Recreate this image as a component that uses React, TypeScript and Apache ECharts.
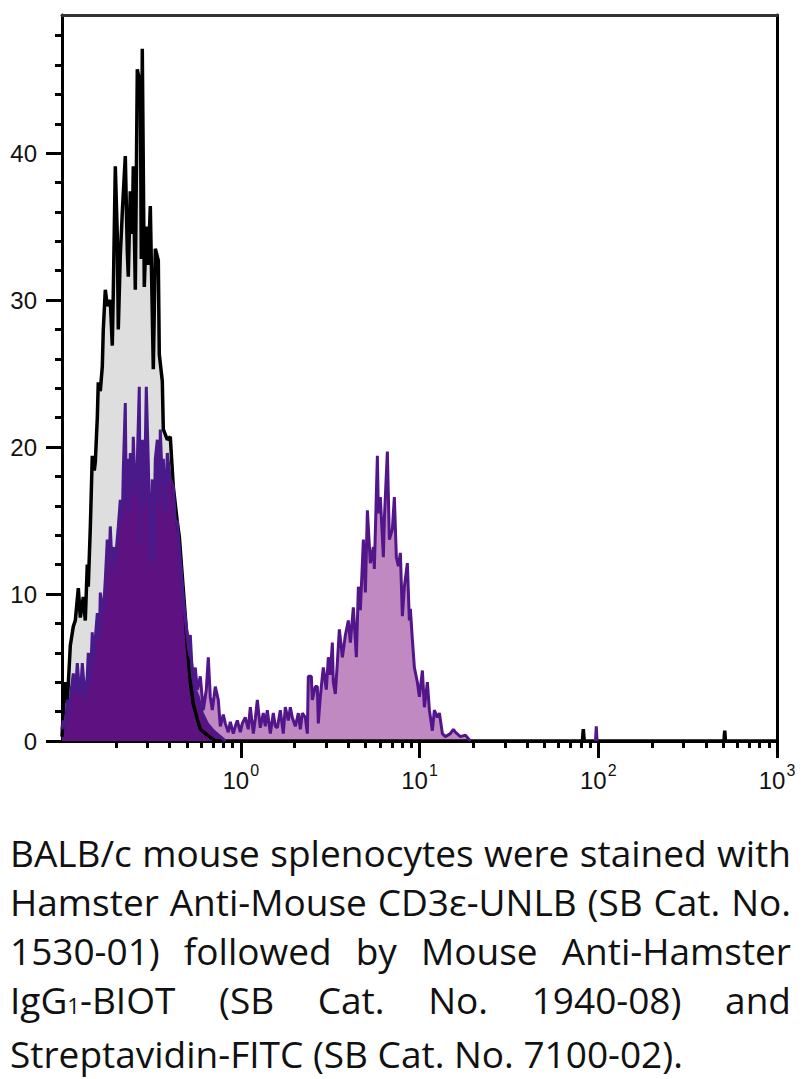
import React, { useEffect, useRef } from "react";
import * as echarts from "echarts";

// ---------- data: [fluorescence intensity, events] ----------
const controlData: [number, number][] = [
  [0.1, 0.3], [0.1017, 2.0], [0.1043, 4.0], [0.1071, 2.6], [0.1113, 6.5], [0.1157, 7.8],
  [0.1187, 8.2], [0.1234, 10.4], [0.1266, 8.4], [0.1316, 9.8], [0.135, 8.2], [0.1385, 12.0],
  [0.1403, 10.5], [0.144, 14.5], [0.1477, 19.4], [0.1516, 18.4], [0.1536, 19.0], [0.1576, 22.0],
  [0.1596, 24.4], [0.1638, 23.8], [0.1681, 25.5], [0.1702, 28.0], [0.1747, 30.7], [0.1792, 29.6],
  [0.1863, 30.0], [0.1911, 26.9], [0.1936, 30.5], [0.1987, 39.1], [0.2039, 34.4], [0.2065, 28.0],
  [0.2119, 33.0], [0.2175, 36.0], [0.226, 39.8], [0.2319, 33.3], [0.2349, 31.6], [0.241, 37.4],
  [0.2473, 34.5], [0.2505, 39.1], [0.2571, 30.7], [0.2638, 45.7], [0.2706, 45.0], [0.2742, 45.3],
  [0.2777, 32.8], [0.2813, 47.1], [0.2887, 30.9], [0.2962, 35.0], [0.3039, 32.4], [0.3119, 36.4],
  [0.3242, 25.3], [0.3327, 33.5], [0.3458, 32.7], [0.3502, 26.3], [0.364, 24.5], [0.3688, 21.2],
  [0.3882, 20.5], [0.4034, 20.7], [0.4194, 17.3], [0.4416, 14.9], [0.4532, 13.9], [0.471, 11.2],
  [0.4896, 8.5], [0.5024, 6.4], [0.5222, 4.0], [0.5428, 2.5], [0.5714, 1.5], [0.5939, 0.8],
  [0.6499, 0.4], [0.7204, 0], [81.5, 0], [82.5, 0.8], [83.5, 0], [505, 0], [510, 0.7], [515, 0],
  [1000, 0],
];

const stainedData: [number, number | string][] = [
  [0.4591, 12.3], [0.471, 10.5], [0.4771, 9.5], [0.4896, 8.5], [0.5024, 7.0], [0.5155, 6.0],
  [0.529, 5.5], [0.5428, 4.2], [0.5568, 5.0], [0.5714, 3.5], [0.5939, 4.4], [0.6173, 2.1],
  [0.6416, 3.5], [0.6583, 5.7], [0.6755, 3.0], [0.6931, 2.1], [0.7204, 3.7], [0.7488, 2.8],
  [0.7683, 1.0], [0.7987, 1.8], [0.8195, 1.2], [0.8518, 0.6], [0.8741, 1.3], [0.9086, 0.5],
  [0.9324, 1.0], [0.9568, 1.4], [0.994, 0.6], [1.02, 1.2], [1.06, 1.6], [1.102, 0.8],
  [1.131, 2.3], [1.176, 0.5], [1.206, 1.5], [1.238, 2.8], [1.286, 0.9], [1.337, 1.9],
  [1.372, 1.0], [1.408, 2.1], [1.464, 0.5], [1.521, 1.9], [1.561, 1.0], [1.602, 0.9],
  [1.665, 2.1], [1.73, 0.5], [1.775, 2.3], [1.845, 1.4], [1.894, 2.3], [1.943, 1.6],
  [2.02, 1.0], [2.1, 1.9], [2.154, 0.8], [2.21, 1.9], [2.298, 1.6], [2.358, 0.5],
  [2.388, 4.4], [2.482, 4.4], [2.515, 2.8], [2.614, 3.7], [2.682, 3.7], [2.716, 1.2],
  [2.787, 3.0], [2.86, 4.4], [2.897, 5.0], [3.011, 3.5], [3.09, 5.7], [3.171, 4.5],
  [3.254, 6.7], [3.296, 4.0], [3.382, 3.2], [3.47, 5.3], [3.561, 7.6], [3.704, 5.7],
  [3.847, 7.2], [3.999, 8.2], [4.104, 6.7], [4.265, 9.1], [4.434, 5.7], [4.55, 10.5],
  [4.669, 8.9], [4.853, 13.7], [4.98, 10.1], [5.11, 15.7], [5.309, 12.1], [5.519, 13.2],
  [5.59, 11.7], [5.812, 19.4], [5.887, 15.5], [6.039, 16.6], [6.278, 12.5], [6.359, 15.1],
  [6.61, 19.7], [6.783, 13.7], [7.05, 14.4], [7.234, 16.6], [7.423, 12.5], [7.616, 11.9],
  [7.815, 12.8], [8.019, 8.5], [8.228, 10.5], [8.552, 12.1], [8.776, 8.2], [8.889, 9.0],
  [9.123, 6.9], [9.361, 5.0], [9.73, 4.0], [9.984, 3.0], [10.38, 4.8], [10.65, 2.3],
  [11.07, 4.0], [11.36, 2.1], [11.8, 0.7], [12.11, 2.1], [12.59, 1.6], [12.92, 1.9],
  [13.43, 0.5], [13.95, 0.3], [14.88, 0.5], [15.47, 0.8], [15.87, 0.6], [16.93, 0.3],
  [18.06, 0.4], [19.26, 0], [96, "-"], [96.5, 0], [97.5, 1.0], [98.5, 0],
];

const cd3NegativeData: [number, number][] = [
  [0.1, 0.8], [0.1017, 1.4], [0.1043, 1.0], [0.1071, 2.8], [0.1099, 2.0], [0.1127, 3.5],
  [0.1157, 4.6], [0.1187, 3.2], [0.1218, 5.3], [0.125, 3.5], [0.1266, 3.0], [0.1299, 5.3],
  [0.1333, 3.5], [0.135, 2.8], [0.1385, 4.5], [0.1403, 6.0], [0.144, 4.0], [0.1477, 7.4],
  [0.1497, 5.5], [0.1536, 7.0], [0.1576, 8.7], [0.1617, 7.0], [0.1638, 10.1], [0.1681, 9.0],
  [0.1702, 8.7], [0.1747, 11.0], [0.1792, 13.7], [0.1839, 12.5], [0.1863, 14.6], [0.1911, 11.5],
  [0.1936, 13.2], [0.1987, 12.2], [0.2065, 14.6], [0.2119, 16.4], [0.2175, 15.0], [0.2203, 18.5],
  [0.226, 23.0], [0.229, 16.0], [0.2319, 19.2], [0.2379, 15.5], [0.241, 19.6], [0.2473, 17.0],
  [0.2505, 20.7], [0.2571, 16.5], [0.2638, 19.0], [0.2706, 24.1], [0.2742, 13.5], [0.2813, 20.5],
  [0.2887, 16.0], [0.2962, 24.1], [0.3039, 19.0], [0.3119, 12.1], [0.32, 17.8], [0.3242, 12.3],
  [0.3327, 19.2], [0.3414, 20.5], [0.3502, 16.0], [0.3548, 21.2], [0.364, 17.5], [0.3688, 19.2],
  [0.3784, 15.5], [0.3882, 19.6], [0.4034, 17.8], [0.4194, 17.3], [0.4304, 15.0], [0.4416, 14.9],
  [0.4591, 12.3], [0.471, 10.5], [0.4896, 8.2], [0.5089, 6.9], [0.5222, 7.2], [0.5358, 4.6],
  [0.5568, 3.5], [0.5788, 3.0], [0.6094, 1.9], [0.6499, 1.2], [0.7021, 0.7], [0.7683, 0.3],
  [0.8195, 0],
];

// ---------- axes ----------
const yTickValues = [0, 10, 20, 30, 40];
const yMinorTickValues = [2, 4, 6, 8, 12, 14, 16, 18, 22, 24, 26, 28, 32, 34, 36, 38, 42, 44, 46, 48];
const yMax = 49.4;
const xMin = 0.1;
const xMax = 1000;
const xDecadeExponents = [0, 1, 2, 3];
const xMinorTickValues = [
  0.2, 0.3, 0.4, 0.5, 0.6, 0.7, 0.8, 0.9,
  2, 3, 4, 5, 6, 7, 8, 9,
  20, 30, 40, 50, 60, 70, 80, 90,
  200, 300, 400, 500, 600, 700, 800, 900,
];

const captionLines = [
  "BALB/c mouse splenocytes were stained with",
  "Hamster Anti-Mouse CD3ε-UNLB (SB Cat. No.",
  "1530-01) followed by Mouse Anti-Hamster",
  "IgG1-BIOT (SB Cat. No. 1940-08) and",
  "Streptavidin-FITC (SB Cat. No. 7100-02).",
];

const AXIS_FONT = "'Liberation Sans', Arial, sans-serif";

function renderWord(word: string, key: number) {
  if (word.startsWith("IgG1")) {
    return (
      <span key={key}>
        IgG<span style={{ fontSize: "0.6em" }}>1</span>
        {word.slice(4)}
      </span>
    );
  }
  return <span key={key}>{word}</span>;
}

export default function App() {
  const ref = useRef<HTMLDivElement>(null);

  useEffect(() => {
    if (!ref.current) return;
    const chart = echarts.init(ref.current, undefined, { renderer: "svg" });
    const logTicks = xMinorTickValues.map((v) => Math.log10(v));
    const noZero = { onZero: false };

    const hiddenValueX = {
      type: "value",
      min: Math.log10(xMin),
      max: Math.log10(xMax),
      splitLine: { show: false },
    };
    const baseY = { type: "value", min: 0, max: yMax, splitLine: { show: false } };

    chart.setOption({
      animation: false,
      grid: { left: 62, top: 15, width: 715, height: 726, outerBoundsMode: "none", containLabel: false },
      xAxis: [
        {
          type: "log",
          logBase: 10,
          min: xMin,
          max: xMax,
          position: "bottom",
          axisLine: { ...noZero, show: true, lineStyle: { color: "#000", width: 3 } },
          axisTick: { show: false },
          axisLabel: { show: false },
          minorTick: { show: false },
          splitLine: { show: false },
        },
        {
          ...hiddenValueX,
          position: "bottom",
          axisLine: { ...noZero, show: true, lineStyle: { color: "rgba(0,0,0,0)", width: 0 } },
          axisTick: {
            show: true,
            length: 17,
            lineStyle: { color: "#000", width: 3 },
            customValues: xDecadeExponents,
          },
          axisLabel: {
            show: true,
            customValues: xDecadeExponents,
            margin: 21,
            formatter: (v: number) => `{b|10}{s|${v}}`,
            rich: {
              b: { fontSize: 24, lineHeight: 30, fontFamily: AXIS_FONT, color: "#111", verticalAlign: "bottom" },
              s: { fontSize: 16, lineHeight: 16, fontFamily: AXIS_FONT, color: "#111", verticalAlign: "top", padding: [0, 0, 0, 1] },
            },
          },
        },
        {
          ...hiddenValueX,
          position: "bottom",
          axisLine: { ...noZero, show: true, lineStyle: { color: "rgba(0,0,0,0)", width: 0 } },
          axisTick: { show: true, length: 7, lineStyle: { color: "#000", width: 3 }, customValues: logTicks },
          axisLabel: { show: false },
        },
        {
          ...hiddenValueX,
          position: "top",
          axisLine: { ...noZero, show: true, lineStyle: { color: "#333", width: 3 } },
          axisTick: { show: false },
          axisLabel: { show: false },
        },
      ],
      yAxis: [
        {
          ...baseY,
          position: "left",
          axisLine: { ...noZero, show: true, lineStyle: { color: "#000", width: 3 } },
          axisTick: { show: true, length: 16, lineStyle: { color: "#000", width: 3 }, customValues: yTickValues },
          axisLabel: {
            show: true,
            customValues: yTickValues,
            margin: 25,
            fontSize: 24,
            fontFamily: AXIS_FONT,
            color: "#111",
          },
        },
        {
          ...baseY,
          position: "left",
          axisLine: { ...noZero, show: true, lineStyle: { color: "rgba(0,0,0,0)", width: 0 } },
          axisTick: { show: true, length: 7, lineStyle: { color: "#000", width: 3 }, customValues: yMinorTickValues },
          axisLabel: { show: false },
        },
        {
          ...baseY,
          position: "right",
          axisLine: { ...noZero, show: true, lineStyle: { color: "#000", width: 3 } },
          axisTick: { show: false },
          axisLabel: { show: false },
        },
      ],
      series: [
        {
          name: "Control",
          type: "line",
          xAxisIndex: 0,
          yAxisIndex: 0,
          data: controlData,
          symbol: "none",
          lineStyle: { color: "#000", width: 3.5 },
          areaStyle: { color: "#dedede", opacity: 1 },
        },
        {
          name: "Stained",
          type: "line",
          xAxisIndex: 0,
          yAxisIndex: 0,
          data: stainedData,
          symbol: "none",
          connectNulls: false,
          lineStyle: { color: "#53168a", width: 3 },
          areaStyle: { color: "#c089c1", opacity: 1 },
        },
        {
          name: "CD3 negative",
          type: "line",
          xAxisIndex: 0,
          yAxisIndex: 0,
          data: cd3NegativeData,
          symbol: "none",
          lineStyle: { color: "#4a1a8a", width: 3 },
          areaStyle: { color: "#5e1281", opacity: 1 },
        },
      ],
    });
    return () => chart.dispose();
  }, []);

  return (
    <div style={{ position: "absolute", left: 0, top: 0, width: 804, height: 1079, background: "#fff", overflow: "hidden" }}>
      <div ref={ref} style={{ position: "absolute", left: 0, top: 0, width: 804, height: 805 }} />
      <div
        style={{
          position: "absolute",
          left: 10,
          top: 828,
          width: 781,
          fontFamily: "'Open Sans', 'Noto Sans', sans-serif",
          fontSize: 37,
          lineHeight: "49px",
          color: "#111",
        }}
      >
        {captionLines.map((line, i) => {
          const last = i === captionLines.length - 1;
          if (last) {
            return (
              <div key={i} style={{ whiteSpace: "nowrap", lineHeight: "40px", marginTop: 4 }}>
                {line}
              </div>
            );
          }
          return (
            <div key={i} style={{ display: "flex", justifyContent: "space-between", whiteSpace: "nowrap" }}>
              {line.split(" ").map((w, j) => renderWord(w, j))}
            </div>
          );
        })}
      </div>
    </div>
  );
}
